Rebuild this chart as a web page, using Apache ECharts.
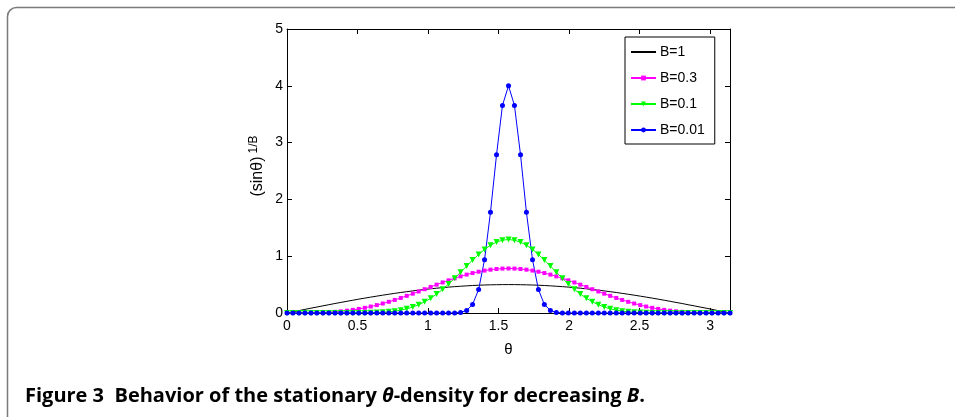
<!DOCTYPE html>
<html>
<head>
<meta charset="utf-8">
<script src="https://cdn.jsdelivr.net/npm/echarts@6/dist/echarts.min.js"></script>
<style>
html,body{margin:0;padding:0;background:#fff;}
#c{width:955px;height:417px;}
</style>
</head>
<body>
<div id="c"></div>
<script>
// theta grid (rad)
const theta = [0,0.042,0.085,0.127,0.170,0.212,0.255,0.297,0.340,0.382,0.425,0.467,0.509,0.552,0.594,0.637,0.679,0.722,0.764,0.807,0.849,0.892,0.934,0.976,1.019,1.061,1.104,1.146,1.189,1.231,1.274,1.316,1.359,1.401,1.443,1.486,1.528,1.571,1.613,1.656,1.698,1.741,1.783,1.825,1.868,1.910,1.953,1.995,2.038,2.080,2.123,2.165,2.208,2.250,2.292,2.335,2.377,2.420,2.462,2.505,2.547,2.590,2.632,2.675,2.717,2.759,2.802,2.844,2.887,2.929,2.972,3.014,3.057,3.099,3.142];

// B = 1
const b1 = [0,0.021,0.042,0.064,0.085,0.105,0.126,0.146,0.167,0.186,0.206,0.225,0.244,0.262,0.280,0.297,0.314,0.330,0.346,0.361,0.375,0.389,0.402,0.414,0.426,0.437,0.446,0.456,0.464,0.471,0.478,0.484,0.489,0.493,0.496,0.498,0.500,0.500,0.500,0.498,0.496,0.493,0.489,0.484,0.478,0.471,0.464,0.456,0.446,0.437,0.426,0.414,0.402,0.389,0.375,0.361,0.346,0.330,0.314,0.297,0.280,0.262,0.244,0.225,0.206,0.186,0.167,0.146,0.126,0.105,0.085,0.064,0.042,0.021,0];

// B = 0.3
const b03 = [0,0.000,0.000,0.001,0.002,0.004,0.008,0.013,0.020,0.029,0.041,0.055,0.072,0.091,0.114,0.139,0.167,0.197,0.230,0.265,0.302,0.340,0.379,0.419,0.459,0.499,0.538,0.575,0.611,0.645,0.676,0.703,0.727,0.747,0.763,0.775,0.782,0.784,0.782,0.775,0.763,0.747,0.727,0.703,0.676,0.645,0.611,0.575,0.538,0.499,0.459,0.419,0.379,0.340,0.302,0.265,0.230,0.197,0.167,0.139,0.114,0.091,0.072,0.055,0.041,0.029,0.020,0.013,0.008,0.004,0.002,0.001,0.000,0.000,0];

// B = 0.1
const b01 = [0,0,0,0,0,0,0.000,0.000,0.000,0.000,0.000,0.000,0.001,0.002,0.004,0.007,0.012,0.021,0.033,0.050,0.074,0.105,0.146,0.197,0.259,0.333,0.417,0.511,0.612,0.718,0.826,0.932,1.031,1.119,1.193,1.248,1.282,1.294,1.282,1.248,1.193,1.119,1.031,0.932,0.826,0.718,0.612,0.511,0.417,0.333,0.259,0.197,0.146,0.105,0.074,0.050,0.033,0.021,0.012,0.007,0.004,0.002,0.001,0.000,0.000,0.000,0.000,0.000,0.000,0,0,0,0,0,0];

// B = 0.01
const b001 = [0,0,0,0,0,0,0,0,0,0,0,0,0,0,0,0,0,0,0,0,0,0,0,0,0,0,0.000,0.000,0.002,0.011,0.045,0.151,0.413,0.939,1.774,2.788,3.655,3.999,3.655,2.788,1.774,0.939,0.413,0.151,0.045,0.011,0.002,0.000,0.000,0,0,0,0,0,0,0,0,0,0,0,0,0,0,0,0,0,0,0,0,0,0,0,0,0,0];

const seriesNames = ['B=1','B=0.3','B=0.1','B=0.01'];
const xTicks = [0,0.5,1,1.5,2,2.5,3];
const yTicks = [0,1,2,3,4,5];

const pair = arr => theta.map((t,i)=>[t,arr[i]]);
const font = 'Liberation Sans';

const chart = echarts.init(document.getElementById('c'), null, {renderer:'canvas'});
const axisCommon = {
  axisLine:{show:true,onZero:false,lineStyle:{color:'#000',width:1}},
  axisTick:{show:true,inside:true,length:5,lineStyle:{color:'#000',width:1}},
  splitLine:{show:false}
};
chart.setOption({
  animation:false,
  backgroundColor:'#fff',
  grid:{left:287,right:225,top:29,bottom:104,containLabel:false},
  xAxis:[
    Object.assign({type:'value',min:0,max:Math.PI,interval:0.5,position:'bottom',
      axisLabel:{show:true,color:'#000',fontFamily:font,fontSize:14,margin:6,
        formatter:v=>xTicks.includes(+v.toFixed(3))?String(+v.toFixed(3)):''},
      name:'θ',nameLocation:'middle',nameGap:29,nameTextStyle:{color:'#000',fontFamily:font,fontSize:15}},axisCommon),
    Object.assign({type:'value',min:0,max:Math.PI,interval:0.5,position:'top',axisLabel:{show:false}},axisCommon)
  ],
  yAxis:[
    Object.assign({type:'value',min:0,max:5,interval:1,position:'left',
      axisLabel:{show:true,color:'#000',fontFamily:font,fontSize:14,margin:4,
        formatter:v=>yTicks.includes(v)?String(v):''}},axisCommon),
    Object.assign({type:'value',min:0,max:5,interval:1,position:'right',axisLabel:{show:false}},axisCommon)
  ],
  legend:{
    show:true,orient:'vertical',left:625,top:37,
    padding:[8,10,7,5],itemGap:12,itemWidth:25,itemHeight:6,
    borderColor:'#000',borderWidth:1,backgroundColor:'#fff',
    textStyle:{color:'#000',fontFamily:font,fontSize:14,padding:[0,0,0,-1]},
    data:[
      {name:seriesNames[0],itemStyle:{opacity:0}},
      seriesNames[1],seriesNames[2],seriesNames[3]
    ]
  },
  series:[
    {name:seriesNames[0],type:'line',data:pair(b1),symbol:'none',lineStyle:{color:'#000',width:1},itemStyle:{color:'#000'}},
    {name:seriesNames[1],type:'line',data:pair(b03),symbol:'rect',symbolSize:4,lineStyle:{color:'#ff00ff',width:1},itemStyle:{color:'#ff00ff'}},
    {name:seriesNames[2],type:'line',data:pair(b01),symbol:'triangle',symbolRotate:180,symbolSize:6,lineStyle:{color:'#00ff00',width:1},itemStyle:{color:'#00ff00'}},
    {name:seriesNames[3],type:'line',data:pair(b001),symbol:'circle',symbolSize:5,lineStyle:{color:'#0000ff',width:1},itemStyle:{color:'#0000ff'}}
  ],
  graphic:[
    {type:'rect',shape:{x:7.5,y:7.5,width:1100,height:500,r:9},style:{fill:null,stroke:'#7a7a7a',lineWidth:1.5},silent:true,z:-1},
    {type:'text',x:258,y:166,rotation:Math.PI/2,
      style:{text:'(sinθ){sup|1/B}',fill:'#000',fontSize:16,fontFamily:font,align:'center',verticalAlign:'middle',
        rich:{sup:{fontSize:12,fontFamily:font,fill:'#000',padding:[0,0,9,3]}}}},
    {type:'text',x:25,y:396,
      style:{text:'{b|Figure 3  Behavior of the stationary }{bi|θ}{b|-density for decreasing }{bi|B}{b|.}',
        verticalAlign:'middle',
        rich:{b:{fontSize:20,fontWeight:'bold',fontFamily:'Open Sans',fill:'#000'},
              bi:{fontSize:20,fontWeight:'bold',fontStyle:'italic',fontFamily:'Open Sans',fill:'#000'}}}}
  ]
});
</script>
</body>
</html>
